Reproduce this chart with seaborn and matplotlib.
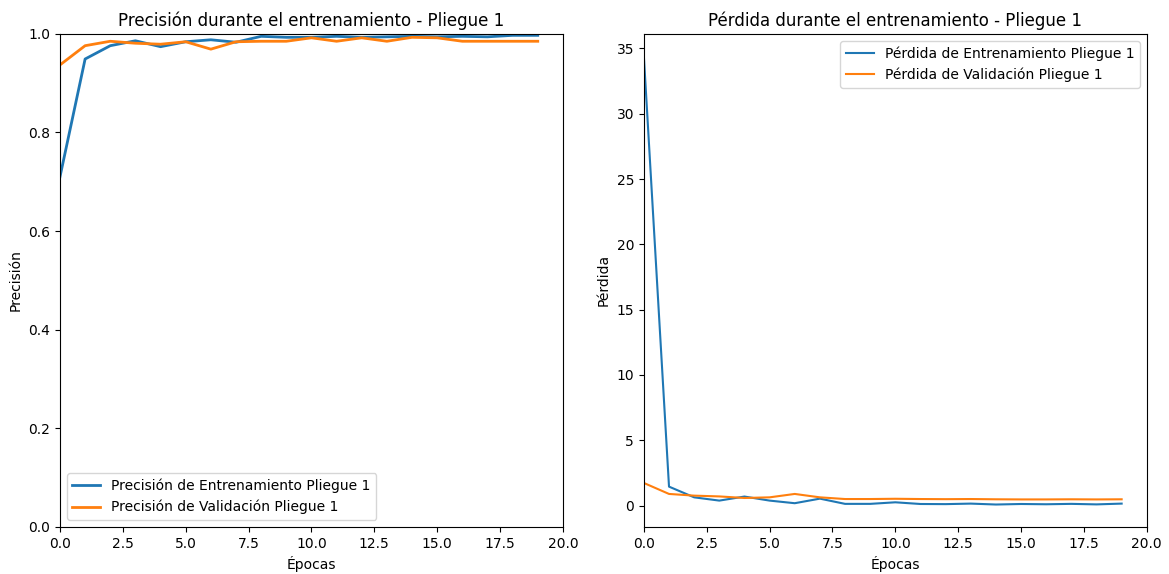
import matplotlib
matplotlib.use("Agg")
import matplotlib.pyplot as plt
import seaborn as sns
import numpy as np

epochs = list(range(20))
acc_train = [0.71, 0.949, 0.976, 0.986, 0.974, 0.984, 0.988, 0.983, 0.995, 0.993,
             0.993, 0.995, 0.993, 0.994, 0.995, 0.994, 0.995, 0.994, 0.997, 0.997]
acc_val = [0.937, 0.976, 0.985, 0.981, 0.979, 0.984, 0.969, 0.984, 0.985, 0.985,
           0.992, 0.985, 0.992, 0.985, 0.993, 0.992, 0.985, 0.985, 0.985, 0.985]
loss_train = [34.4, 1.45, 0.63, 0.38, 0.69, 0.38, 0.18, 0.53, 0.13, 0.13,
              0.25, 0.12, 0.11, 0.15, 0.08, 0.12, 0.1, 0.13, 0.09, 0.15]
loss_val = [1.73, 0.89, 0.76, 0.7, 0.58, 0.63, 0.89, 0.63, 0.5, 0.5,
            0.52, 0.5, 0.49, 0.5, 0.48, 0.47, 0.47, 0.48, 0.47, 0.48]

fig, ax = plt.subplots(1, 2, figsize=(11.69, 5.74), dpi=100)
fig.subplots_adjust(left=0.0513, right=0.981, bottom=0.082, top=0.941, wspace=0.161)

# accuracy
sns.lineplot(x=epochs, y=acc_train, ax=ax[0], color="#1f77b4", linewidth=2,
             label="Precisión de Entrenamiento Pliegue 1")
sns.lineplot(x=epochs, y=acc_val, ax=ax[0], color="#ff7f0e", linewidth=2,
             label="Precisión de Validación Pliegue 1")
ax[0].set_xlim(0, 20); ax[0].set_ylim(0, 1)
ax[0].set_title("Precisión durante el entrenamiento - Pliegue 1")
ax[0].set_xlabel("Épocas"); ax[0].set_ylabel("Precisión")
ax[0].legend(loc="lower left")

# loss
sns.lineplot(x=epochs, y=loss_train, ax=ax[1], color="#1f77b4", linewidth=1.5,
             label="Pérdida de Entrenamiento Pliegue 1")
sns.lineplot(x=epochs, y=loss_val, ax=ax[1], color="#ff7f0e", linewidth=1.5,
             label="Pérdida de Validación Pliegue 1")
ax[1].set_xlim(0, 20)
ax[1].set_title("Pérdida durante el entrenamiento - Pliegue 1")
ax[1].set_xlabel("Épocas"); ax[1].set_ylabel("Pérdida")
ax[1].legend(loc="upper right")

plt.savefig("out.png", dpi=100)
